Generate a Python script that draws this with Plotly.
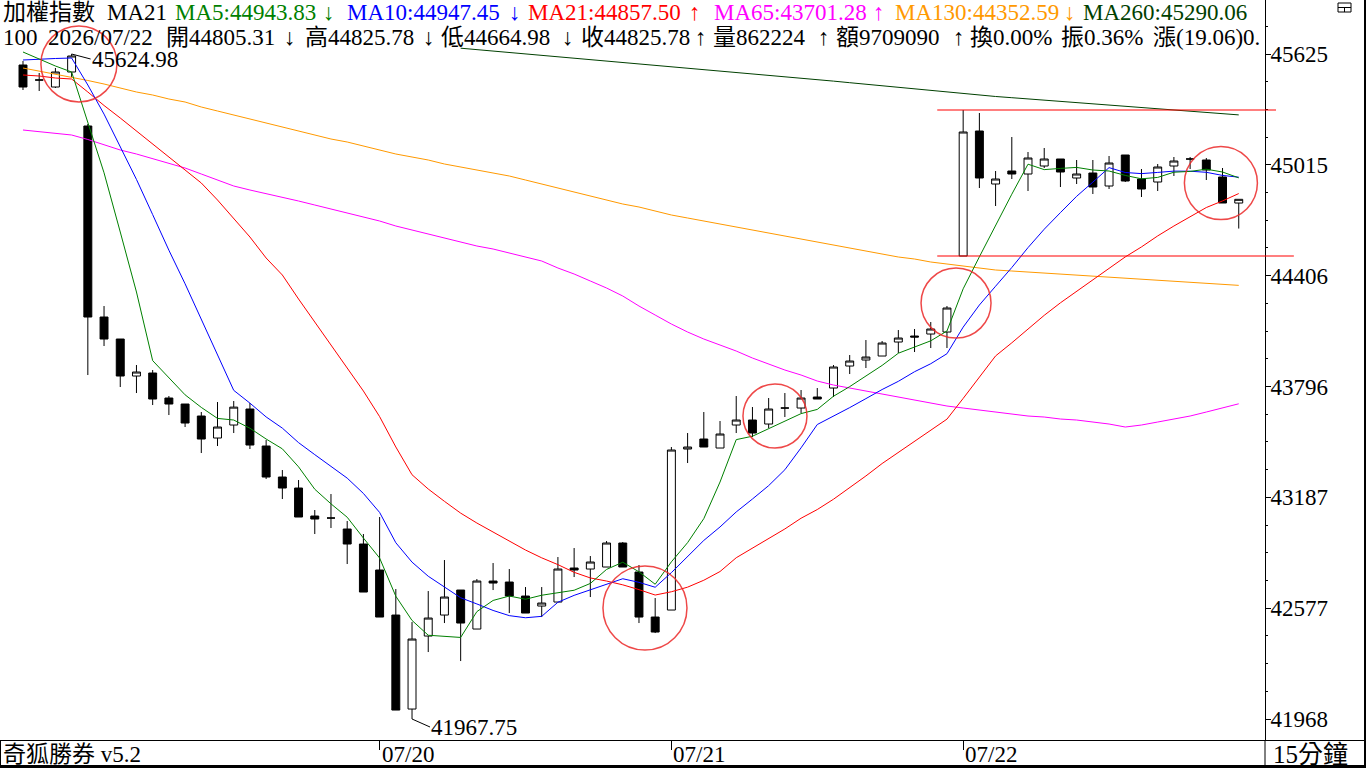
import plotly.graph_objects as go

# ---------------- data ----------------
bars = list(range(76))

opens = [45564.5, 45482.0, 45443.5, 45526.0, 45229.0, 44178.5, 44057.5, 43854.0, 43870.5, 43733.0,
         43700.0, 43634.0, 43513.0, 43584.5, 43672.5, 43469.0, 43298.5, 43238.0, 43084.0, 43073.0,
         43012.5, 42930.0, 42787.0, 42539.5, 42022.5, 42424.0, 42539.5, 42677.0, 42462.5, 42726.5,
         42721.0, 42644.0, 42589.0, 42611.0, 42798.0, 42792.5, 42803.5, 42935.5, 42776.0, 42528.5,
         42567.0, 43452.5, 43507.5, 43458.0, 43584.5, 43612.0, 43590.0, 43678.0, 43678.0, 43738.5,
         43788.0, 43909.0, 43942.0, 43964.0, 44041.0, 44074.0, 44085.0, 44096.0, 44514.0, 45201.5,
         44910.0, 44981.5, 44965.0, 45009.0, 45047.5, 44943.0, 44970.5, 44899.0, 45069.5, 44937.5,
         44921.0, 45009.0, 45047.5, 45042.0, 44948.5, 44805.31]
highs = [45586.5, 45520.5, 45548.0, 45624.98, 45240.0, 44239.0, 44057.5, 43914.5, 43887.0, 43744.0,
         43700.0, 43656.0, 43711.0, 43716.5, 43705.5, 43502.0, 43337.0, 43282.0, 43117.0, 43205.0,
         43056.5, 42985.0, 43078.5, 42682.5, 42501.0, 42671.5, 42842.0, 42677.0, 42737.5, 42825.5,
         42792.5, 42693.5, 42693.5, 42858.5, 42908.0, 42864.0, 42946.5, 42941.0, 42814.5, 42633.0,
         43463.5, 43540.5, 43656.0, 43606.5, 43744.0, 43683.5, 43733.0, 43760.5, 43777.0, 43788.0,
         43914.5, 43969.5, 44052.0, 44046.5, 44107.0, 44112.5, 44151.0, 44239.0, 45317.0, 45300.5,
         44981.5, 45168.5, 45086.0, 45108.0, 45047.5, 45042.0, 45042.0, 45064.0, 45069.5, 44992.5,
         45020.0, 45058.5, 45058.5, 45053.0, 44998.0, 44825.78]
lows = [45427.0, 45421.5, 45438.0, 45498.5, 43859.5, 44019.0, 43793.5, 43760.5, 43694.5, 43639.5,
        43573.5, 43430.5, 43469.0, 43540.5, 43452.5, 43287.5, 43177.5, 43078.5, 42985.0, 43018.0,
        42820.0, 42666.0, 42528.5, 42017.0, 41967.75, 42336.0, 42495.5, 42286.5, 42462.5, 42677.0,
        42550.5, 42550.5, 42528.5, 42611.0, 42748.5, 42638.5, 42803.5, 42803.5, 42495.5, 42440.5,
        42567.0, 43375.5, 43463.5, 43458.0, 43540.5, 43518.5, 43568.0, 43628.5, 43650.5, 43727.5,
        43738.5, 43865.0, 43898.0, 43964.0, 43980.5, 43986.0, 44008.0, 44008.0, 44514.0, 44888.0,
        44789.0, 44937.5, 44871.5, 44998.0, 44893.5, 44910.0, 44855.0, 44882.5, 44921.0, 44838.5,
        44871.5, 44954.0, 44992.5, 44932.0, 44805.5, 44664.98]
closes = [45443.5, 45482.0, 45526.0, 45614.0, 44178.5, 44057.5, 43854.0, 43876.0, 43727.5, 43700.0,
          43595.5, 43507.5, 43573.5, 43683.0, 43474.5, 43298.5, 43238.0, 43078.5, 43067.5, 43073.0,
          42930.0, 42666.0, 42528.5, 42017.0, 42407.5, 42523.0, 42638.5, 42495.5, 42726.5, 42715.5,
          42644.0, 42550.5, 42605.5, 42792.5, 42787.0, 42831.0, 42935.5, 42803.5, 42528.5, 42446.0,
          43447.0, 43463.5, 43463.5, 43535.0, 43612.0, 43540.5, 43672.5, 43678.0, 43733.0, 43727.5,
          43903.5, 43936.5, 43958.5, 44035.5, 44063.0, 44068.5, 44112.5, 44228.0, 45196.0, 44943.0,
          44937.5, 44965.0, 45053.0, 45047.5, 44976.0, 44965.0, 44893.5, 45025.5, 44926.5, 44882.5,
          45003.5, 45036.5, 45047.5, 44987.0, 44805.5, 44825.78]

ma5 = [45636, 45598, 45559, 45526, 45249, 44971.6, 44646, 44316, 43938.7, 43843,
       43750.6, 43681.3, 43620.8, 43612, 43566.9, 43507.5, 43453.6, 43354.6, 43231.4, 43151.1,
       43077.4, 42963, 42853, 42642.9, 42509.8, 42428.4, 42422.9, 42416.3, 42558.2, 42619.8,
       42644, 42626.4, 42648.4, 42661.6, 42675.9, 42713.3, 42790.3, 42829.9, 42777.1, 42708.9,
       42832.1, 42937.7, 43069.7, 43271, 43504.2, 43522.9, 43564.7, 43607.6, 43647.2, 43670.3,
       43742.9, 43795.7, 43851.8, 43912.3, 43979.4, 44012.4, 44047.6, 44101.5, 44333.6, 44509.6,
       44683.4, 44853.9, 45018.9, 44989.2, 44995.8, 45001.3, 44987, 44981.5, 44957.3, 44938.6,
       44946.3, 44974.9, 44979.3, 44991.4, 44976, 44943.83]
ma10 = [45592, 45597.5, 45600.3, 45603, 45454.5, 45294.4, 45113.5, 44935.3, 44741.7, 44545.9,
        44361.1, 44163.6, 43968.4, 43775.3, 43704.9, 43629, 43567.4, 43487.7, 43421.7, 43359,
        43292.4, 43208.3, 43103.8, 42937.1, 42830.4, 42752.9, 42692.9, 42634.6, 42600.5, 42564.8,
        42536.2, 42524.6, 42532.3, 42609.9, 42647.8, 42678.6, 42708.3, 42739.1, 42719.3, 42692.4,
        42772.7, 42864, 42949.8, 43024, 43106.5, 43177.5, 43251.2, 43338.6, 43459.1, 43587.2,
        43632.9, 43680.2, 43729.7, 43779.7, 43824.8, 43877.6, 43921.6, 43976.6, 44122.9, 44244.5,
        44347.9, 44450.7, 44560.2, 44661.4, 44752.7, 44842.3, 44920.4, 45000.2, 44973.2, 44967.2,
        44973.8, 44980.9, 44980.4, 44974.3, 44957.3, 44947.45]
ma21 = [45509.5, 45504, 45493, 45487.5, 45416, 45341.8, 45273, 45201.5, 45130, 45058.5,
        44987, 44915.5, 44822, 44723, 44618.5, 44503, 44409.5, 44277.5, 44151, 44024.5,
        43903.8, 43771.5, 43630.7, 43463.8, 43311.1, 43232.5, 43164.8, 43099.9, 43045.5, 42997.1,
        42946.5, 42897, 42854.1, 42816.7, 42774.3, 42743.5, 42726.5, 42705.6, 42679.2, 42649.5,
        42667.6, 42692.9, 42730.9, 42778.7, 42854.6, 42908.5, 42963.5, 43013, 43071.9, 43119.7,
        43176.4, 43238, 43304.5, 43372.7, 43433.2, 43494.3, 43555.3, 43616.9, 43730.8, 43845.7,
        43964.5, 44036.6, 44112.5, 44187.8, 44256.6, 44320.9, 44385.3, 44449.6, 44509, 44564,
        44624.5, 44679, 44731.8, 44780.7, 44817, 44857.50]
ma65 = [45207, 45198.8, 45190.5, 45179.5, 45154.8, 45124.5, 45097, 45075, 45050.3, 45025.5,
        44998, 44965, 44932, 44899, 44877, 44857.8, 44838.5, 44816.5, 44794.5, 44772.5,
        44750.5, 44728.5, 44706.5, 44679, 44657, 44635, 44613, 44591, 44569, 44552.5,
        44530.5, 44508.5, 44486.5, 44448, 44415, 44376.5, 44338, 44294, 44239, 44189.5,
        44140, 44096, 44057.5, 44024.5, 43991.5, 43953, 43920, 43887, 43859.5, 43826.5,
        43804.5, 43788, 43771.5, 43755, 43738.5, 43722, 43705.5, 43689, 43678, 43667,
        43656, 43645, 43634, 43628.5, 43617.5, 43612, 43601, 43590, 43573.5, 43584.5,
        43601, 43617.5, 43634, 43656, 43678, 43701.28]
ma130 = [45548, 45531.5, 45515, 45498.5, 45479.3, 45460, 45438, 45416, 45399.5, 45377.5,
         45361, 45333.5, 45311.5, 45289.5, 45267.5, 45245.5, 45223.5, 45201.5, 45179.5, 45157.5,
         45141, 45119, 45097, 45075, 45058.5, 45042, 45020, 45003.5, 44987, 44970.5,
         44954, 44932, 44910, 44888, 44866, 44844, 44822, 44800, 44783.5, 44761.5,
         44739.5, 44723, 44706.5, 44690, 44673.5, 44657, 44640.5, 44624, 44607.5, 44591,
         44574.5, 44558, 44541.5, 44525, 44508.5, 44497.5, 44481, 44470, 44459, 44448,
         44437, 44431.5, 44426, 44420.5, 44415, 44409.5, 44404, 44398.5, 44393, 44387.5,
         44382, 44376.5, 44371, 44365.5, 44360, 44352.59]
# MA260 lies above the visible window before bar 27
ma260 = [None] * 27 + [
         45656.9, 45649.2, 45641.5, 45633.8, 45626.1, 45618.4, 45610.7, 45603, 45595.3, 45587.6,
         45579.9, 45572.2, 45564.5, 45556.8, 45549.1, 45541.4, 45533.7, 45526, 45518.3, 45509.5,
         45502.4, 45494.1, 45485.3, 45475.9, 45467.2, 45458.4, 45449.6, 45440.8, 45431.4, 45422.6,
         45413.8, 45405, 45397.3, 45391.3, 45384.7, 45378.1, 45372, 45365.4, 45358.8, 45352.2,
         45345.6, 45339, 45331.9, 45325.3, 45319.8, 45312.1, 45304.4, 45297.2, 45290.06]

day_labels = ["07/20", "07/21", "07/22"]
day_starts = [22, 40, 58]

volume_text = "量862224"
amount_text = "額9709090"
turnover_text = "換0.00%"
amp_text = "振0.36%"
chg_text = "漲(19.06)0."

# hand-drawn annotation circles: (centre bar, centre price, radius px)
circles = [(3.45, 45570, 38), (38.37, 42578, 42), (46.39, 43634, 32),
           (57.56, 44255, 35), (73.9, 44915, 36.5)]
# red horizontal lines drawn at bar 58's high and low
box_bar = 58
hline_start_bar = 56.4
hline_end_bars = [77.3, 78.4]

# ---------------- layout constants ----------------
W, H = 1366, 768
PL, PR, PT, PB = 2, 1265, 0, 740
X_RANGE = [-1.295, 76.62]
Y_RANGE = [41852.26, 45921.96]
FONT = "Liberation Serif, 'Noto Sans CJK TC', serif"
FS = 23

GREEN, BLUE, RED, MAG, ORANGE, DKGREEN = "#008000", "#0000ff", "#ff0000", "#ff00ff", "#ff9900", "#004000"

px_per_bar = (PR - PL) / (X_RANGE[1] - X_RANGE[0])
px_per_pt = (PB - PT) / (Y_RANGE[1] - Y_RANGE[0])


def bar_to_paper(b):
    return (PL + (b - X_RANGE[0]) * px_per_bar) / W


def px_x(p):
    return p / W


def px_y(p):
    return 1 - p / H


fig = go.Figure()
fig.add_trace(go.Candlestick(
    x=bars, open=opens, high=highs, low=lows, close=closes,
    increasing=dict(line=dict(color="black", width=1), fillcolor="white"),
    decreasing=dict(line=dict(color="black", width=1), fillcolor="black"),
    whiskerwidth=0, hoverinfo="skip", showlegend=False))

for ma, col in [(ma260, DKGREEN), (ma130, ORANGE), (ma65, MAG), (ma21, RED), (ma10, BLUE), (ma5, GREEN)]:
    fig.add_trace(go.Scatter(x=bars, y=ma, mode="lines", line=dict(color=col, width=1),
                             hoverinfo="skip", showlegend=False, connectgaps=False))

tick0 = min(lows)
dtick = (max(highs) - min(lows)) / 6

shapes = []
# annotation circles
for cb, cp, r in circles:
    shapes.append(dict(type="circle", xref="x", yref="y",
                       x0=cb - r / px_per_bar, x1=cb + r / px_per_bar,
                       y0=cp - r / px_per_pt, y1=cp + r / px_per_pt,
                       line=dict(color="rgba(235,40,40,0.85)", width=1.5), layer="above"))
# red horizontal lines
for yv, xe in [(highs[box_bar], hline_end_bars[0]), (opens[box_bar], hline_end_bars[1])]:
    shapes.append(dict(type="line", xref="paper", yref="y",
                       x0=bar_to_paper(hline_start_bar), x1=bar_to_paper(xe), y0=yv, y1=yv,
                       line=dict(color="#ff0000", width=1.2), layer="above"))
# frame lines
shapes += [
    dict(type="line", xref="paper", yref="paper", x0=0, x1=1, y0=px_y(740.5), y1=px_y(740.5),
         line=dict(color="black", width=1)),
    dict(type="line", xref="paper", yref="paper", x0=0, x1=1, y0=px_y(766.5), y1=px_y(766.5),
         line=dict(color="black", width=3)),
    dict(type="line", xref="paper", yref="paper", x0=px_x(PR), x1=px_x(PR), y0=px_y(740), y1=0,
         line=dict(color="black", width=1)),
    dict(type="line", xref="paper", yref="paper", x0=px_x(0.5), x1=px_x(0.5), y0=px_y(740), y1=0,
         line=dict(color="black", width=1)),
    dict(type="line", xref="paper", yref="paper", x0=px_x(1365), x1=px_x(1365), y0=px_y(0), y1=0,
         line=dict(color="black", width=2)),
    # small window icon at top right
    dict(type="rect", xref="paper", yref="paper", x0=px_x(1338), x1=px_x(1351), y0=px_y(12), y1=px_y(3),
         line=dict(color="black", width=1)),
    dict(type="line", xref="paper", yref="paper", x0=px_x(1338), x1=px_x(1351), y0=px_y(7.5), y1=px_y(7.5),
         line=dict(color="black", width=1)),
    dict(type="line", xref="paper", yref="paper", x0=px_x(1344.5), x1=px_x(1344.5), y0=px_y(12), y1=px_y(7.5),
         line=dict(color="black", width=1)),
]

annotations = []


def txt(s, xp, yp, color="black", size=FS):
    annotations.append(dict(text=s, x=px_x(xp), y=px_y(yp), xref="paper", yref="paper",
                            xanchor="left", yanchor="middle", showarrow=False, borderpad=0,
                            font=dict(family=FONT, size=size, color=color)))


# header line 1
header1 = [("加權指數", "black", 2), ("MA21", "black", 106),
           (f"MA5:{ma5[-1]:.2f}", GREEN, 174), ("↓", GREEN, 322),
           (f"MA10:{ma10[-1]:.2f}", BLUE, 346), ("↓", BLUE, 508),
           (f"MA21:{ma21[-1]:.2f}", RED, 527), ("↑", RED, 688),
           (f"MA65:{ma65[-1]:.2f}", MAG, 713), ("↑", MAG, 872),
           (f"MA130:{ma130[-1]:.2f}", ORANGE, 894), ("↓", ORANGE, 1063),
           (f"MA260:{ma260[-1]:.2f}", DKGREEN, 1082)]
for s, c, xp in header1:
    txt(s, xp, 12, c)

header2 = [("100", 2), ("2026/07/22", 47),
           (f"開{opens[-1]:.2f}", 165), ("↓", 283),
           (f"高{highs[-1]:.2f}", 304), ("↓", 422),
           (f"低{lows[-1]:.2f}", 440), ("↓", 561),
           (f"收{closes[-1]:.2f}", 580), ("↑", 694),
           (volume_text, 712), ("↑", 817),
           (amount_text, 835), ("↑", 952),
           (turnover_text, 969), (amp_text, 1060), (chg_text, 1152)]
for s, xp in header2:
    txt(s, xp, 37)

# bottom strip
txt("奇狐勝券 v5.2", 2, 754)
txt("15分鐘", 1272, 754, size=25)
for lab, b in zip(day_labels, day_starts):
    annotations.append(dict(text=lab, x=b, y=px_y(754), xref="x", yref="paper",
                            xanchor="left", yanchor="middle", showarrow=False, borderpad=0,
                            xshift=1, font=dict(family=FONT, size=FS, color="black")))

# extreme price labels
i_hi = highs.index(max(highs))
i_lo = lows.index(min(lows))
annotations.append(dict(text=f"{max(highs):.2f}", x=i_hi, y=max(highs), xref="x", yref="y",
                        showarrow=True, arrowhead=0, arrowwidth=1, arrowcolor="black",
                        ax=19, ay=5, xanchor="left", yanchor="middle", standoff=0, borderpad=0,
                        font=dict(family=FONT, size=FS, color="black")))
annotations.append(dict(text=f"{min(lows):.2f}", x=i_lo, y=min(lows), xref="x", yref="y",
                        showarrow=True, arrowhead=0, arrowwidth=1, arrowcolor="black",
                        ax=18, ay=8, xanchor="left", yanchor="middle", standoff=0, borderpad=0,
                        font=dict(family=FONT, size=FS, color="black")))

fig.update_layout(
    width=W, height=H, margin=dict(l=0, r=0, t=0, b=0),
    paper_bgcolor="white", plot_bgcolor="white", showlegend=False,
    hovermode=False, boxgap=0.3,
    xaxis=dict(domain=[PL / W, PR / W], range=X_RANGE, rangeslider=dict(visible=False),
               showgrid=False, zeroline=False, showline=False,
               tickmode="array", tickvals=day_starts, ticks="outside", ticklen=9,
               tickcolor="black", tickwidth=1, showticklabels=False, fixedrange=True),
    yaxis=dict(domain=[1 - PB / H, 1], range=Y_RANGE, side="right",
               showgrid=False, zeroline=False, showline=True, linecolor="black", linewidth=1,
               ticks="outside", ticklen=5, tickcolor="black", tickwidth=1,
               tickmode="linear", tick0=tick0, dtick=dtick, tickformat=".0f",
               ticklabelstandoff=-5,
               tickfont=dict(family=FONT, size=FS, color="black"),
               minor=dict(ticks="outside", ticklen=2, tickcolor="black", tick0=tick0, dtick=dtick / 4),
               fixedrange=True),
    shapes=shapes, annotations=annotations,
)

fig.write_html("out.html", config={"displayModeBar": False, "staticPlot": True})
